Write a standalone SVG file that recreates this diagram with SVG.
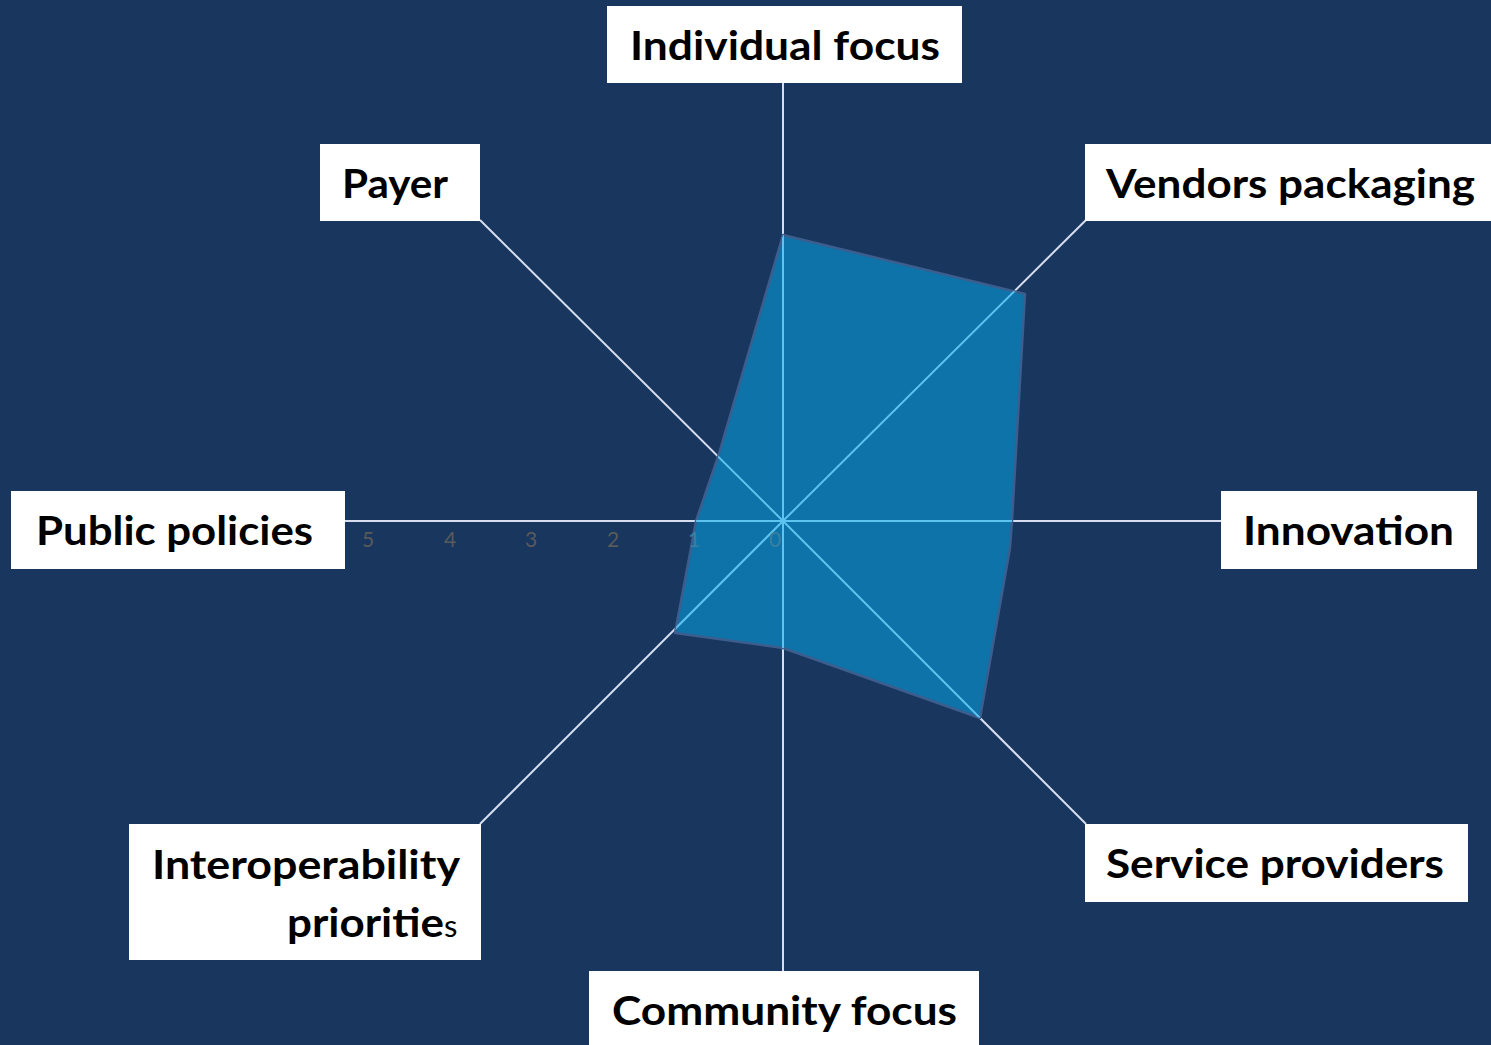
<svg xmlns="http://www.w3.org/2000/svg" width="1491" height="1045" viewBox="0 0 1491 1045">
<style>
.box{fill:#ffffff}
.lbl{font-family:Lato,"Open Sans","Liberation Sans",sans-serif;font-weight:700;font-size:41px;fill:#000000}
.ax{stroke:#D6DEEF;stroke-width:2;fill:none}
.axin{stroke:#5EC3F0;stroke-width:2;fill:none}
.tick{font-family:Lato,"Liberation Sans",sans-serif;font-size:21px;fill:#5A5A5A;text-anchor:middle}
</style>
<defs>
<clipPath id="polyclip"><polygon points="783,235 1025,294 1012,521 1010,548 980,718 783,648 675,633 691,548 696,521 718,457"/></clipPath>
<g id="axes">
<line x1="783" y1="83" x2="783" y2="971"/>
<line x1="345" y1="521" x2="1221" y2="521"/>
<line x1="783" y1="521" x2="480" y2="220"/>
<line x1="783" y1="521" x2="1086" y2="220"/>
<line x1="783" y1="521" x2="480" y2="824"/>
<line x1="783" y1="521" x2="1086" y2="824"/>
</g>
</defs>
<rect x="0" y="0" width="1491" height="1045" fill="#18365E"/>
<g id="connectors">
<use href="#axes" class="ax"/>
</g>
<g id="ticks">
<text class="tick" x="368" y="547">5</text>
<text class="tick" x="450" y="547">4</text>
<text class="tick" x="531" y="547">3</text>
<text class="tick" x="613" y="547">2</text>
</g>
<g id="series">
<polygon points="783,235 1025,294 1012,521 1010,548 980,718 783,648 675,633 691,548 696,521 718,457" fill="#0E73A8" stroke="#3C5E8E" stroke-width="2.5" stroke-linejoin="round"/>
<g clip-path="url(#polyclip)"><use href="#axes" class="axin"/></g>
<text class="tick" x="694" y="547" style="fill:#3A7FA0">1</text>
<text class="tick" x="775" y="547" style="fill:#3A7FA0">0</text>
</g>
<g id="node-individual">
<rect class="box" x="607" y="6" width="355" height="77"/>
<text class="lbl" x="630" y="60" textLength="310" lengthAdjust="spacingAndGlyphs">Individual focus</text>
</g>
<g id="node-payer">
<rect class="box" x="320" y="144" width="160" height="77"/>
<text class="lbl" x="342" y="198" textLength="106" lengthAdjust="spacingAndGlyphs">Payer</text>
</g>
<g id="node-vendors">
<rect class="box" x="1085" y="144" width="406" height="77"/>
<text class="lbl" x="1106" y="198" textLength="369" lengthAdjust="spacingAndGlyphs">Vendors packaging</text>
</g>
<g id="node-public">
<rect class="box" x="11" y="491" width="334" height="78"/>
<text class="lbl" x="36" y="545" textLength="277" lengthAdjust="spacingAndGlyphs">Public policies</text>
</g>
<g id="node-innovation">
<rect class="box" x="1221" y="491" width="256" height="78"/>
<text class="lbl" x="1243" y="545" textLength="211" lengthAdjust="spacingAndGlyphs">Innovation</text>
</g>
<g id="node-interop">
<rect class="box" x="129" y="824" width="352" height="136"/>
<text class="lbl" x="152" y="879" textLength="308" lengthAdjust="spacingAndGlyphs">Interoperability</text>
<text class="lbl" x="287" y="937"><tspan textLength="157" lengthAdjust="spacingAndGlyphs">prioritie</tspan><tspan style="font-weight:400;font-size:31px">s</tspan></text>
</g>
<g id="node-service">
<rect class="box" x="1085" y="824" width="383" height="78"/>
<text class="lbl" x="1106" y="878" textLength="338" lengthAdjust="spacingAndGlyphs">Service providers</text>
</g>
<g id="node-community">
<rect class="box" x="589" y="971" width="390" height="74"/>
<text class="lbl" x="612" y="1025" textLength="345" lengthAdjust="spacingAndGlyphs">Community focus</text>
</g>
</svg>
